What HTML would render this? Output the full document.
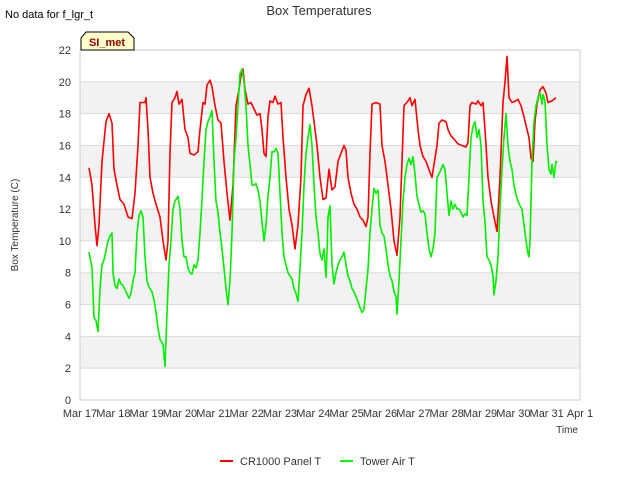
<!DOCTYPE html>
<html><head><meta charset="utf-8"><style>
body{margin:0;background:#fff;font-family:"Liberation Sans",sans-serif}
svg text{font-family:"Liberation Sans",sans-serif}
</style></head><body>
<svg id="chart" width="640" height="480" xmlns="http://www.w3.org/2000/svg">
<rect width="640" height="480" fill="#fff"/>
<g id="grid"></g>
<g id="series"></g>
<g id="axes"></g>
<text x="5" y="18" font-size="11" fill="#000">No data for f_lgr_t</text>
<text x="319" y="15" font-size="13" fill="#333" text-anchor="middle">Box Temperatures</text>
<g>
<path d="M81,50 L81,38 L86,32 L128,32 L134,38 L134,50 Z" fill="#ffffcc" stroke="#000" stroke-width="1"/>
<text x="107" y="46" font-size="11" font-weight="bold" fill="#8b0000" text-anchor="middle">SI_met</text>
</g>
<text x="18" y="225" font-size="10" fill="#333" text-anchor="middle" transform="rotate(-90 18 225)">Box Temperature (C)</text>
<text x="578" y="433" font-size="10" fill="#333" text-anchor="end">Time</text>
<g>
<g>
<line x1="220" y1="461" x2="233" y2="461" stroke="#ff0000" stroke-width="2"/>
<text x="240" y="465" font-size="11" fill="#333">CR1000 Panel T</text></g>
<g>
<line x1="340" y1="461" x2="353" y2="461" stroke="#00ff00" stroke-width="2"/>
<text x="360" y="465" font-size="11" fill="#333">Tower Air T</text></g>
</g>
</svg>
<script>
const xTickLabels=["Mar 17","Mar 18","Mar 19","Mar 20","Mar 21","Mar 22","Mar 23","Mar 24","Mar 25","Mar 26","Mar 27","Mar 28","Mar 29","Mar 30","Mar 31","Apr 1"];
const yTicks=[0,2,4,6,8,10,12,14,16,18,20,22];
const redT=[.27,.36,.45,.51,.57,.66,.78,.87,.96,1.02,1.11,1.2,1.32,1.44,1.56,1.65,1.74,1.8,1.95,1.98,2.04,2.1,2.19,2.28,2.4,2.49,2.58,2.64,2.7,2.76,2.85,2.91,2.97,3.06,3.15,3.24,3.3,3.42,3.54,3.6,3.69,3.75,3.81,3.9,3.96,4.05,4.14,4.23,4.32,4.41,4.5,4.59,4.68,4.77,4.83,4.89,4.95,5.04,5.13,5.22,5.31,5.4,5.46,5.52,5.58,5.64,5.7,5.79,5.85,5.94,6.03,6.09,6.18,6.27,6.36,6.45,6.54,6.63,6.69,6.78,6.87,6.96,7.02,7.11,7.2,7.29,7.38,7.47,7.56,7.65,7.74,7.83,7.92,7.98,8.04,8.13,8.22,8.31,8.4,8.49,8.58,8.64,8.7,8.76,8.88,9.0,9.06,9.15,9.24,9.33,9.42,9.51,9.6,9.66,9.72,9.84,9.9,9.96,10.05,10.14,10.2,10.29,10.38,10.5,10.56,10.62,10.71,10.77,10.86,10.98,11.04,11.13,11.22,11.34,11.46,11.58,11.64,11.7,11.76,11.88,11.94,12.03,12.09,12.15,12.24,12.33,12.42,12.51,12.6,12.69,12.75,12.81,12.87,12.96,13.08,13.14,13.23,13.32,13.41,13.47,13.53,13.59,13.65,13.71,13.8,13.89,13.98,14.04,14.16,14.28];
const redV=[14.6,13.5,11,9.7,11,15,17.5,18,17.4,14.5,13.5,12.6,12.3,11.5,11.4,13,16,18.7,18.7,19,17,14,13,12.3,11.5,10,8.8,10,15.5,18.7,19,19.4,18.6,18.9,17,16.5,15.5,15.4,15.6,17,18.7,18.6,19.8,20.1,19.7,18.5,17.6,17.4,15,13,11.3,13.5,18.5,19.5,20.4,20.8,19.5,18.6,18.7,18.3,17.9,18,17,15.5,15.3,17.8,18.8,18.7,19.1,18.6,18.7,16.5,14,12,11,9.5,11,14,18.5,19.2,19.6,18.5,17.5,16,14,12.6,12.7,14.5,13.2,13.4,15,15.5,16,15.7,14,13,12.3,12,11.5,11.3,10.9,11.5,15.5,18.6,18.7,18.6,16,15,13.5,12,10,9.1,11.5,15,18.5,18.8,19,18.5,18.9,17,16,15.3,15,14.3,14,14.8,16,17.4,17.6,17.5,17,16.6,16.4,16.1,16,15.9,16.2,18.5,18.7,18.6,18.8,18.5,18.7,17,14,12.5,11.5,10.6,14,18.7,20,21.6,19,18.7,18.8,18.9,18.5,17.8,17,16.5,15.2,15,17.5,18.6,19.5,19.7,19.3,18.7,18.8,19];
const greenT=[.27,.36,.42,.48,.54,.6,.66,.72,.78,.84,.9,.96,.99,1.05,1.11,1.17,1.23,1.29,1.38,1.47,1.53,1.59,1.65,1.71,1.77,1.83,1.89,1.95,2.01,2.07,2.16,2.22,2.28,2.34,2.4,2.49,2.55,2.61,2.67,2.73,2.79,2.85,2.94,3.0,3.06,3.12,3.18,3.24,3.3,3.36,3.42,3.48,3.54,3.6,3.66,3.72,3.78,3.84,3.9,3.96,4.02,4.08,4.14,4.2,4.26,4.32,4.38,4.44,4.5,4.56,4.62,4.68,4.74,4.8,4.86,4.92,4.98,5.04,5.1,5.16,5.22,5.28,5.34,5.4,5.46,5.52,5.58,5.64,5.7,5.76,5.82,5.88,5.94,6.0,6.06,6.12,6.18,6.24,6.3,6.36,6.42,6.48,6.54,6.6,6.66,6.72,6.78,6.84,6.9,6.96,7.02,7.08,7.14,7.2,7.26,7.32,7.38,7.41,7.44,7.5,7.56,7.62,7.68,7.74,7.8,7.86,7.92,7.98,8.04,8.1,8.16,8.22,8.28,8.34,8.4,8.46,8.52,8.58,8.64,8.7,8.76,8.82,8.88,8.94,9.0,9.06,9.12,9.18,9.24,9.3,9.36,9.42,9.48,9.51,9.57,9.63,9.69,9.75,9.81,9.87,9.93,9.99,10.05,10.11,10.17,10.23,10.29,10.35,10.41,10.47,10.53,10.59,10.65,10.71,10.77,10.83,10.89,10.95,11.01,11.07,11.13,11.19,11.25,11.31,11.37,11.43,11.49,11.55,11.61,11.67,11.73,11.79,11.85,11.91,11.97,12.03,12.09,12.15,12.21,12.27,12.33,12.39,12.42,12.48,12.54,12.6,12.66,12.72,12.78,12.84,12.9,12.96,13.02,13.08,13.14,13.2,13.26,13.32,13.38,13.44,13.47,13.5,13.56,13.62,13.68,13.74,13.8,13.86,13.89,13.95,14.01,14.07,14.13,14.16,14.22,14.28,14.31];
const greenV=[9.3,8.3,5.2,5.0,4.3,7.0,8.5,8.8,9.4,10,10.3,10.5,8,7.2,7.0,7.6,7.3,7.2,6.8,6.4,6.7,7.5,8,10.5,11.6,11.9,11.5,9,7.5,7.1,6.8,6.3,5.5,4.5,3.8,3.5,2.1,5.5,8.5,10,12,12.5,12.8,12,10,9,9.0,8.3,8.0,7.9,8.5,8.3,8.8,10.5,12.6,15,17,17.5,17.8,18.2,15,12.5,11.8,10.5,9.5,8.3,7.0,6.0,7.5,10.5,15,16.5,18.5,20.5,20.8,20,18.5,16,14.8,13.5,13.5,13.6,13.2,12.5,11.2,10,11,12.8,14,15.6,15.6,15.8,15.5,13,10.5,9,8.5,8,7.8,7.6,7.0,6.7,6.2,8.3,10.5,13.5,15.5,16.5,17.3,16,13.5,11.5,10.5,9.2,8.8,9.5,7.7,9.2,11.5,12.2,8.5,7.3,8.0,8.5,8.8,9.0,9.3,8.5,7.8,7.5,7.0,6.8,6.5,6.2,5.8,5.5,5.7,7.0,8.2,10.5,12,13.3,13,13.2,11,10.5,10.3,9.5,8.5,7.8,7.5,6.8,6.5,5.4,7.5,10,12.5,14,14.8,15.2,14.8,15.3,14.2,12.8,12.3,11.8,11.9,11.7,10.5,9.5,9.0,9.5,10.5,14,14.2,14.5,14.8,14.5,13,11.6,12.5,12.0,12.3,12,12,11.8,11.5,11.7,11.6,14,16.5,17.2,17.5,16.5,17.0,16,12.5,11.2,9,8.8,8.5,7.8,6.6,7.5,9,12,14.5,16.5,18,16,15,14.5,13.5,12.9,12.5,12.2,12,11,10,9.2,9.0,10,15,17.5,18.5,19,19.3,18.6,19.2,18.8,16,14.5,14.2,14.8,14.0,15.0,14.9];
const NS="http://www.w3.org/2000/svg";
const X0=80,X1=580,Y0=400,Y1=50;
const xs=d=>X0+(X1-X0)*d/15;
const ys=v=>Y0-(Y0-Y1)*v/22;
function mk(tag,attrs,parent){const e=document.createElementNS(NS,tag);for(const k in attrs)e.setAttribute(k,attrs[k]);parent.appendChild(e);return e;}
const grid=document.getElementById('grid'),axes=document.getElementById('axes'),series=document.getElementById('series');
for(let i=0;i<yTicks.length-1;i++){
  if(i%2===1){const b=mk('rect',{x:X0,y:ys(yTicks[i+1]),width:X1-X0,height:ys(yTicks[i])-ys(yTicks[i+1]),fill:'#f2f2f2'},grid);
  
  }
}
yTicks.forEach(v=>{
  const l=mk('line',{x1:X0,x2:X1,y1:ys(v),y2:ys(v),stroke:'#dcdcdc','stroke-width':1},grid);
  
  
  const t=mk('text',{x:X0-9,y:ys(v)+4,'font-size':11,fill:'#333','text-anchor':'end'},axes);
  t.textContent=v;
  
  
});
xTickLabels.forEach((s,i)=>{
  const t=mk('text',{x:xs(i),y:Y0+17,'font-size':11,fill:'#333','text-anchor':'middle'},axes);
  t.textContent=s;
  
  
});
const fr=mk('rect',{x:X0,y:Y1,width:X1-X0,height:Y0-Y1,fill:'none',stroke:'#ccc','stroke-width':1},axes);


function line(T,V,color,name){
  const d=T.map((t,i)=>(i?'L':'M')+xs(t).toFixed(1)+','+ys(V[i]).toFixed(1)).join('');
  const p=mk('path',{d:d,fill:'none',stroke:color,'stroke-width':1.6,'stroke-linejoin':'round'},series);
  
  
}
line(redT,redV,'#ff0000','cr1000-panel-t-line');
line(greenT,greenV,'#00ee00','tower-air-t-line');
</script>
</body></html>
